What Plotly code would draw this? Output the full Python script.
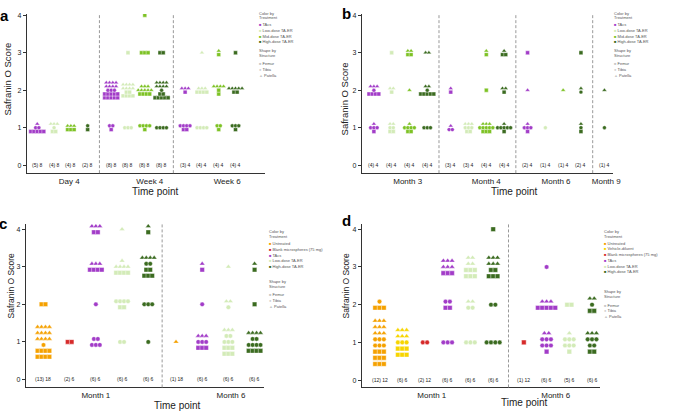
import plotly.graph_objects as go

W, H = 685, 412

COLORS = {
    "Untreated": "#f5a100",
    "Vehicle-diluent": "#f7d500",
    "Blank microspheres (75 mg)": "#d62a2a",
    "TAcs": "#a23cc8",
    "Low-dose TA-ER": "#d3ebb8",
    "Mid-dose TA-ER": "#7dc224",
    "High-dose TA-ER": "#3b6b20",
}
STRUCTURES = ["Femur", "Tibia", "Patella"]
SYMBOLS = {"F": "square", "T": "circle", "P": "triangle-up"}

# ---------------- Panel a ----------------
A_TIMEPOINTS = ["Day 4", "Week 4", "Week 6"]
A_TREATMENTS = ["TAcs", "Low-dose TA-ER", "Mid-dose TA-ER", "High-dose TA-ER"]
# (timepoint index, treatment, n label, {score: {structure: marks per row, bottom to top}})
A_GROUPS = [
    (0, "TAcs", "(5) 8", {1: {"F": [5], "T": [2], "P": [1]}}),
    (0, "Low-dose TA-ER", "(4) 8", {1: {"F": [2], "T": [1], "P": [3]}}),
    (0, "Mid-dose TA-ER", "(4) 8", {1: {"F": [3], "P": [3]}}),
    (0, "High-dose TA-ER", "(2) 8", {1: {"F": [1], "T": [1]}}),
    (1, "TAcs", "(8) 8", {2: {"F": [5, 5], "T": [3], "P": [4, 4]}, 1: {"F": [1], "T": [2]}}),
    (1, "Low-dose TA-ER", "(8) 8", {3: {"F": [1]}, 2: {"F": [4, 2], "P": [4, 4]}, 1: {"T": [3]}}),
    (1, "Mid-dose TA-ER", "(8) 8", {4: {"F": [1]}, 3: {"F": [3]}, 2: {"F": [4], "P": [5, 3]}, 1: {"F": [1], "T": [4]}}),
    (1, "High-dose TA-ER", "(8) 8", {3: {"F": [2]}, 2: {"F": [5, 2], "T": [1], "P": [4, 4]}, 1: {"T": [4]}}),
    (2, "TAcs", "(3) 4", {2: {"F": [1], "P": [3]}, 1: {"F": [2], "T": [4]}}),
    (2, "Low-dose TA-ER", "(4) 4", {3: {"P": [1]}, 2: {"F": [4], "P": [3]}, 1: {"T": [4]}}),
    (2, "Mid-dose TA-ER", "(4) 4", {3: {"F": [1], "P": [1]}, 2: {"F": [1, 1], "P": [4]}, 1: {"F": [1], "T": [2]}}),
    (2, "High-dose TA-ER", "(4) 4", {3: {"F": [1]}, 2: {"F": [2], "P": [5]}, 1: {"F": [1], "T": [3]}}),
]

# ---------------- Panel b ----------------
B_TIMEPOINTS = ["Month 3", "Month 4", "Month 6", "Month 9"]
B_TREATMENTS = ["TAcs", "Low-dose TA-ER", "Mid-dose TA-ER", "High-dose TA-ER"]
B_GROUPS = [
    (0, "TAcs", "(4) 4", {2: {"F": [4], "T": [1], "P": [3]}, 1: {"F": [1], "T": [3], "P": [1]}}),
    (0, "Low-dose TA-ER", "(4) 4", {3: {"F": [1]}, 2: {"F": [1], "P": [2]}, 1: {"F": [2], "T": [2], "P": [2]}}),
    (0, "Mid-dose TA-ER", "(4) 4", {3: {"F": [2], "P": [2]}, 2: {"P": [1]}, 1: {"F": [2], "T": [4], "P": [1]}}),
    (0, "High-dose TA-ER", "(4) 4", {3: {"P": [2]}, 2: {"F": [5], "T": [1], "P": [2]}, 1: {"T": [3]}}),
    (1, "TAcs", "(3) 4", {2: {"F": [1], "P": [1]}, 1: {"T": [2], "P": [1]}}),
    (1, "Low-dose TA-ER", "(3) 4", {1: {"F": [2], "T": [3], "P": [3]}}),
    (1, "Mid-dose TA-ER", "(4) 4", {3: {"F": [1], "P": [1]}, 2: {"F": [1]}, 1: {"F": [3], "T": [5], "P": [3]}}),
    (1, "High-dose TA-ER", "(4) 4", {3: {"F": [2], "P": [1]}, 2: {"F": [1], "P": [2]}, 1: {"F": [1], "T": [5], "P": [1]}}),
    (2, "TAcs", "(2) 4", {3: {"F": [1]}, 2: {"P": [1]}, 1: {"F": [1], "T": [3], "P": [1]}}),
    (2, "Low-dose TA-ER", "(1) 4", {1: {"T": [1]}}),
    (2, "Mid-dose TA-ER", "(1) 4", {2: {"P": [1]}}),
    (2, "High-dose TA-ER", "(2) 4", {3: {"F": [1]}, 2: {"T": [1], "P": [1]}, 1: {"F": [1], "T": [1], "P": [1]}}),
    (3, "High-dose TA-ER", "(1) 4", {2: {"P": [1]}, 1: {"T": [1]}}),
]

# ---------------- Panel c ----------------
C_TIMEPOINTS = ["Month 1", "Month 6"]
C_TREATMENTS = ["Untreated", "Blank microspheres (75 mg)", "TAcs", "Low-dose TA-ER", "High-dose TA-ER"]
C_GROUPS = [
    (0, "Untreated", "(13) 18", {2: {"F": [2]}, 1: {"F": [4, 4], "T": [1], "P": [4, 4, 4]}}),
    (0, "Blank microspheres (75 mg)", "(2) 6", {1: {"F": [2]}}),
    (0, "TAcs", "(6) 6", {4: {"F": [2], "P": [3]}, 3: {"F": [4], "P": [3]}, 2: {"T": [1]}, 1: {"T": [3, 2]}}),
    (0, "Low-dose TA-ER", "(6) 6", {4: {"P": [1]}, 3: {"F": [4], "P": [4, 1]}, 2: {"F": [2], "T": [4]}, 1: {"T": [2]}}),
    (0, "High-dose TA-ER", "(6) 6", {4: {"F": [1], "P": [1]}, 3: {"F": [3, 2], "T": [2], "P": [4]}, 2: {"T": [3]}, 1: {"T": [1]}}),
    (1, "Untreated", "(1) 18", {1: {"P": [1]}}),
    (1, "TAcs", "(6) 6", {3: {"F": [1], "P": [1]}, 2: {"T": [1]}, 1: {"F": [3], "T": [3], "P": [3]}}),
    (1, "Low-dose TA-ER", "(6) 6", {3: {"P": [1]}, 2: {"T": [1], "P": [2]}, 1: {"F": [3, 3], "T": [3, 2], "P": [3]}}),
    (1, "High-dose TA-ER", "(6) 6", {3: {"F": [1], "P": [1]}, 2: {"F": [1]}, 1: {"F": [4], "T": [4, 2], "P": [4]}}),
]

# ---------------- Panel d ----------------
D_TIMEPOINTS = ["Month 1", "Month 6"]
D_TREATMENTS = ["Untreated", "Vehicle-diluent", "Blank microspheres (75 mg)", "TAcs", "Low-dose TA-ER", "High-dose TA-ER"]
D_GROUPS = [
    (0, "Untreated", "(12) 12", {2: {"F": [3], "T": [1]}, 1: {"F": [3, 3, 3], "T": [3, 3], "P": [3, 3, 3]}}),
    (0, "Vehicle-diluent", "(6) 6", {1: {"F": [3, 3], "T": [3], "P": [3, 3]}}),
    (0, "Blank microspheres (75 mg)", "(2) 12", {1: {"T": [2]}}),
    (0, "TAcs", "(6) 6", {3: {"F": [3], "P": [3, 3]}, 2: {"F": [2], "T": [2]}, 1: {"T": [3]}}),
    (0, "Low-dose TA-ER", "(6) 6", {3: {"F": [3, 3], "P": [2, 2]}, 2: {"T": [2], "P": [2]}, 1: {"T": [3]}}),
    (0, "High-dose TA-ER", "(6) 6", {4: {"F": [1]}, 3: {"F": [3, 2], "P": [3, 3]}, 2: {"T": [2]}, 1: {"T": [4]}}),
    (1, "Blank microspheres (75 mg)", "(1) 12", {1: {"F": [1]}}),
    (1, "TAcs", "(6) 6", {3: {"T": [1]}, 2: {"F": [5], "P": [3]}, 1: {"F": [1], "T": [3, 3], "P": [2]}}),
    (1, "Low-dose TA-ER", "(5) 6", {2: {"F": [2]}, 1: {"F": [1], "T": [3, 3], "P": [1]}}),
    (1, "High-dose TA-ER", "(6) 6", {2: {"F": [2], "T": [1], "P": [2]}, 1: {"F": [2], "T": [2, 3], "P": [3]}}),
]

Y_TICKS = [0, 1, 2, 3, 4]

# ---------------- layout configuration (pixels) ----------------
PANELS = [
    dict(letter="a", tps=A_TIMEPOINTS, trt=A_TREATMENTS, groups=A_GROUPS,
         box=(27, 268, 12, 172), y0px=164, y4px=13.3, unit=17, x0px=37.7, gap=0.4,
         dx=3.3, dy=3.8, size=3.9, tick_shift=[0.4, 0.8, 1.0],
         letter_xy=(4.5, 13.5), ytitle_xy=(8, 77, 9.5), xtitle_xy=(157.5, 190.5),
         leg=dict(x=260, cb=11.7, tr=15.7, it=23, step=5.7, sb=49, st=53.3, sh=62.3, sstep=5.9)),
    dict(letter="b", tps=B_TIMEPOINTS, trt=B_TREATMENTS, groups=B_GROUPS,
         box=(366, 620, 12, 172), y0px=164, y4px=13.3, unit=18, x0px=378.3, gap=0.32,
         dx=3.3, dy=3.8, size=3.9, tick_shift=[0.4, 0.5, 0.1, 0.1],
         letter_xy=(351, 11.5), ytitle_xy=(349, 97, 9.5), xtitle_xy=(520.5, 190),
         leg=dict(x=619, cb=11.7, tr=15.7, it=23, step=5.7, sb=49, st=53.3, sh=62.3, sstep=5.9)),
    dict(letter="c", tps=C_TIMEPOINTS, trt=C_TREATMENTS, groups=C_GROUPS,
         box=(26, 267, 223, 387.3), y0px=379.3, y4px=228.3, unit=26.5, x0px=44, gap=0.06,
         dx=4.0, dy=6.0, size=4.5, tick_shift=[0.0, 0.6],
         letter_xy=(3.5, 222.5), ytitle_xy=(11, 285, 8.5), xtitle_xy=(180, 405),
         leg=dict(x=270, cb=230.7, tr=236, it=242.7, step=5.8, sb=280.7, st=286, sh=294.3, sstep=5.7)),
    dict(letter="d", tps=D_TIMEPOINTS, trt=D_TREATMENTS, groups=D_GROUPS,
         box=(366, 607, 223, 387.3), y0px=380, y4px=228.3, unit=23, x0px=384, gap=0.35,
         dx=4.4, dy=6.2, size=4.6, tick_shift=[-0.2, -0.1],
         letter_xy=(351, 219.5), ytitle_xy=(350, 285, 8.5), xtitle_xy=(530.5, 402),
         leg=dict(x=609, cb=230.7, tr=235.7, it=242.3, step=5.75, sb=290.7, st=296, sh=304.7, sstep=5.65)),
]

FONT = "Liberation Sans, Arial, sans-serif"
AXIS_COLOR = "#333333"


def px_x(x):
    return x / W


def px_y(y):
    return 1 - y / H


fig = go.Figure()
layout = dict(
    width=W, height=H, margin=dict(l=0, r=0, t=0, b=0),
    paper_bgcolor="white", plot_bgcolor="white", showlegend=False,
    font=dict(family=FONT, color=AXIS_COLOR),
)
annotations = []
shapes = []

for k, p in enumerate(PANELS, start=1):
    xa = "x" if k == 1 else f"x{k}"
    ya = "y" if k == 1 else f"y{k}"
    L, R, T, B = p["box"]
    ppu = (p["y0px"] - p["y4px"]) / 4.0
    yr = [-(B - p["y0px"]) / ppu, (p["y0px"] - T) / ppu]
    xr = [(L - p["x0px"]) / p["unit"], (R - p["x0px"]) / p["unit"]]
    dxd = p["dx"] / p["unit"]
    dyd = p["dy"] / ppu

    # slot positions for each timepoint
    n_per_tp = [sum(1 for g in p["groups"] if g[0] == t) for t in range(len(p["tps"]))]
    starts = []
    s = 0.0
    for t, n in enumerate(n_per_tp):
        starts.append(s)
        s += n + p["gap"]

    slot_count = {}
    pts = {}  # (treatment, structure) -> ([x],[y])
    for (t, trt, lab, scores) in p["groups"]:
        slot = slot_count.get(t, 0)
        slot_count[t] = slot + 1
        cx = starts[t] + slot
        for score, rows_by in scores.items():
            rows = []
            for st in ["F", "T", "P"]:
                for n in rows_by.get(st, []):
                    rows.append((st, n))
            nr = len(rows)
            for i, (st, n) in enumerate(rows):
                yv = score + (i - (nr - 1) / 2) * dyd
                for j in range(n):
                    xv = cx + (j - (n - 1) / 2) * dxd
                    key = (trt, st)
                    pts.setdefault(key, ([], []))
                    pts[key][0].append(xv)
                    pts[key][1].append(yv)
        annotations.append(dict(x=cx, y=0, xref=xa, yref=ya, text=lab, showarrow=False,
                                font=dict(size=5, color="#222"), xanchor="center", yanchor="middle"))

    for (trt, st), (xs, ys) in pts.items():
        fig.add_trace(go.Scatter(
            x=xs, y=ys, mode="markers", xaxis=xa, yaxis=ya, name=f"{trt} {st}",
            marker=dict(symbol=SYMBOLS[st], color=COLORS[trt], size=p["size"] if st != "P" else p["size"] + 0.4,
                        line=dict(width=0.4, color="white")),
            hoverinfo="skip"))

    # separators between timepoints
    for t in range(1, len(p["tps"])):
        last_prev = starts[t - 1] + n_per_tp[t - 1] - 1
        sep = (last_prev + starts[t]) / 2
        shapes.append(dict(type="line", xref=xa, yref=f"{ya} domain", x0=sep, x1=sep, y0=0, y1=1,
                           line=dict(color="#999999", width=1, dash="3px,2px")))

    tickvals = [starts[t] + (n_per_tp[t] - 1) / 2 + p["tick_shift"][t] for t in range(len(p["tps"]))]

    layout[f"xaxis{'' if k == 1 else k}"] = dict(
        domain=[px_x(L), px_x(R)], anchor=ya, range=xr, showgrid=False, zeroline=False,
        showline=True, linecolor=AXIS_COLOR, linewidth=1, ticks="", tickvals=tickvals,
        ticktext=p["tps"], tickfont=dict(size=8, color="#222"), fixedrange=True)
    layout[f"yaxis{'' if k == 1 else k}"] = dict(
        domain=[px_y(B), px_y(T)], anchor=xa, range=yr, showgrid=False, zeroline=False,
        showline=True, linecolor=AXIS_COLOR, linewidth=1, ticks="outside", ticklen=3,
        tickcolor=AXIS_COLOR, tickvals=Y_TICKS, ticktext=[str(v) for v in Y_TICKS],
        tickfont=dict(size=7, color="#222"), fixedrange=True)

    # panel letter
    lx, ly = p["letter_xy"]
    annotations.append(dict(x=px_x(lx), y=px_y(ly), xref="paper", yref="paper", text=f"<b>{p['letter']}</b>",
                            showarrow=False, font=dict(size=15, color="#000"), xanchor="center", yanchor="middle"))
    # axis titles
    tx, ty, tsz = p["ytitle_xy"]
    annotations.append(dict(x=px_x(tx), y=px_y(ty), xref="paper", yref="paper", text="Safranin O Score",
                            textangle=-90, showarrow=False, font=dict(size=tsz, color="#222"),
                            xanchor="center", yanchor="middle"))
    gx, gy = p["xtitle_xy"]
    annotations.append(dict(x=px_x(gx), y=px_y(gy), xref="paper", yref="paper", text="Time point",
                            showarrow=False, font=dict(size=10, color="#222"), xanchor="center", yanchor="middle"))

    # legend block
    lg = p["leg"]
    def leg_text(y, text):
        annotations.append(dict(x=px_x(lg["x"]), y=px_y(y), xref="paper", yref="paper", text=text,
                                showarrow=False, font=dict(size=4, color="#555"), xanchor="left", yanchor="middle"))
    leg_text(lg["cb"], "Color by")
    leg_text(lg["tr"], "Treatment")
    for i, trt in enumerate(p["trt"]):
        leg_text(lg["it"] + i * lg["step"], f"<span style='color:{COLORS[trt]}'>■</span> {trt}")
    leg_text(lg["sb"], "Shape by")
    leg_text(lg["st"], "Structure")
    for i, (name, glyph) in enumerate(zip(STRUCTURES, ["■", "●", "▲"])):
        leg_text(lg["sh"] + i * lg["sstep"], f"<span style='color:#c8c8c8'>{glyph}</span> {name}")

layout["annotations"] = annotations
layout["shapes"] = shapes
fig.update_layout(**layout)
fig.write_html("out.html", config={"displayModeBar": False},
               post_script="document.body.style.margin='0px';document.body.style.overflow='hidden';")
